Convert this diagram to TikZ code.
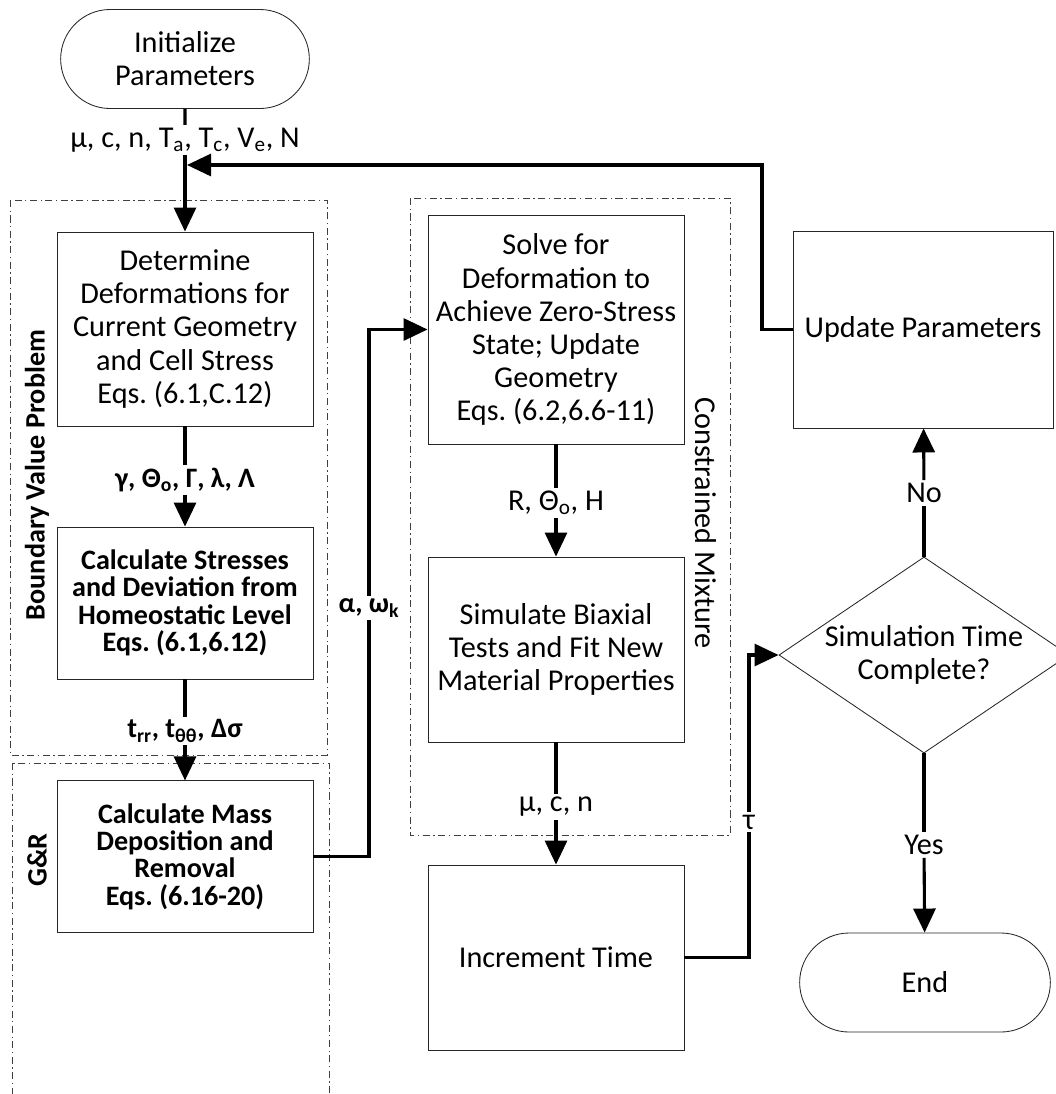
\documentclass[tikz,border=0pt]{standalone}
\usepackage{fontspec}
\setmainfont{Carlito}
\usetikzlibrary{arrows.meta,shapes.geometric,shapes.misc}
\frenchspacing

\begin{document}
\begin{tikzpicture}[x=0.025cm, y=-0.025cm,
    font=\fontsize{21.5}{23.5}\selectfont,
    proc/.style={rectangle, draw=black!85, line width=0.6pt, align=center, minimum width=6.4cm, inner sep=2pt},
    heavy/.style={font=\fontsize{20}{19.5}\selectfont\bfseries},
    term/.style={rounded rectangle, draw=black!85, line width=0.6pt, align=center, minimum width=6.45cm, minimum height=2.475cm},
    decision/.style={diamond, draw=black!85, line width=0.6pt, align=center, aspect=1.5, inner sep=0pt, minimum width=7.25cm, minimum height=4.9cm},
    region/.style={draw=black!75, line width=0.5pt, dash pattern=on 5pt off 2.5pt on 1pt off 2.5pt},
    flow/.style={line width=2.2pt},
    arrow/.style={flow, -{Triangle[length=0.6cm, width=0.55cm]}},
    flowlabel/.style={inner sep=2pt}
]
\useasboundingbox (0,0) rectangle (1056,1094);

% Regions
\draw[region] (10,200) rectangle (327,755);
\draw[region] (12,763) rectangle (329,1110);
\draw[region] (410,198) rectangle (730,835);
\node[rotate=90, heavy] (bvplab) at (37,475) {Boundary Value Problem};
\node[rotate=90, heavy] (grlab) at (37,860) {G\&R};
\node[rotate=-90] (cmlab) at (706,523) {Constrained Mixture};

% Left column
\node[term] (init) at (185,59) {Initialize\\Parameters};
\node[proc, minimum height=4.85cm] (det) at (185,329) {Determine\\Deformations for\\Current Geometry\\and Cell Stress\\Eqs. (6.1,C.12)};
\node[proc, heavy, minimum height=3.8cm] (stress) at (185,603) {Calculate Stresses\\and Deviation from\\Homeostatic Level\\Eqs. (6.1,6.12)};
\node[proc, heavy, minimum height=3.78cm] (mass) at (185,856.5) {Calculate Mass\\Deposition and\\Removal\\Eqs. (6.16-20)};

% Middle column
\node[proc, minimum height=5.725cm] (solve) at (556,329.5) {Solve for\\Deformation to\\Achieve Zero-Stress\\State; Update\\Geometry\\Eqs. (6.2,6.6-11)};
\node[proc, minimum height=4.625cm] (sim) at (556,649.5) {Simulate Biaxial\\Tests and Fit New\\Material Properties};
\node[proc, minimum height=4.625cm] (inc) at (556,957.5) {Increment Time};

% Right column
\node[proc, minimum width=6.5cm, minimum height=4.925cm] (update) at (923,329.5) {Update Parameters};
\node[decision] (dec) at (924,655) {Simulation Time\\Complete?};
\node[term, minimum width=6.5cm] (end) at (925,982.5) {End};

% Connector labels
\node[flowlabel] (plab) at (185,140) {μ, c, n, T\textsubscript{a}, T\textsubscript{c}, V\textsubscript{e}, N};
\node[flowlabel, heavy] (glab) at (185,480) {γ, Θ\textsubscript{o}, Γ, λ, Λ};
\node[flowlabel, heavy] (tlab) at (185,731) {t\textsubscript{rr}, t\textsubscript{θθ}, Δσ};
\node[flowlabel, heavy] (alab) at (369,608) {α, ω\textsubscript{k}};
\node[flowlabel] (rlab) at (556,503) {R, Θ\textsubscript{o}, H};
\node[flowlabel] (mlab) at (556,807) {μ, c, n};
\node[flowlabel] (taulab) at (749,822) {τ};
\node[flowlabel] (nolab) at (924,493) {No};
\node[flowlabel] (yeslab) at (924,845) {Yes};
\coordinate (join) at (187,165);
\coordinate (fbk) at (762,165);

% Connectors
\draw[flow] (init) -- (plab);
\draw[arrow] (plab) -- (det);
\draw[arrow] (update.west) -| (fbk) -- (join);
\draw[flow] (det) -- (glab);
\draw[arrow] (glab) -- (stress);
\draw[flow] (stress) -- (tlab);
\draw[arrow] (tlab) -- (mass);
\draw[flow] (mass.east) -| (alab);
\draw[arrow] (alab) |- (solve.west);
\draw[flow] (solve) -- (rlab);
\draw[arrow] (rlab) -- (sim);
\draw[flow] (sim) -- (mlab);
\draw[arrow] (mlab) -- (inc);
\draw[flow] (inc.east) -| (taulab);
\draw[arrow] (taulab) |- (dec.west);
\draw[flow] (dec) -- (nolab);
\draw[arrow] (nolab) -- (update);
\draw[flow] (dec) -- (yeslab);
\draw[arrow] (yeslab) -- (end);

\end{tikzpicture}
\end{document}
